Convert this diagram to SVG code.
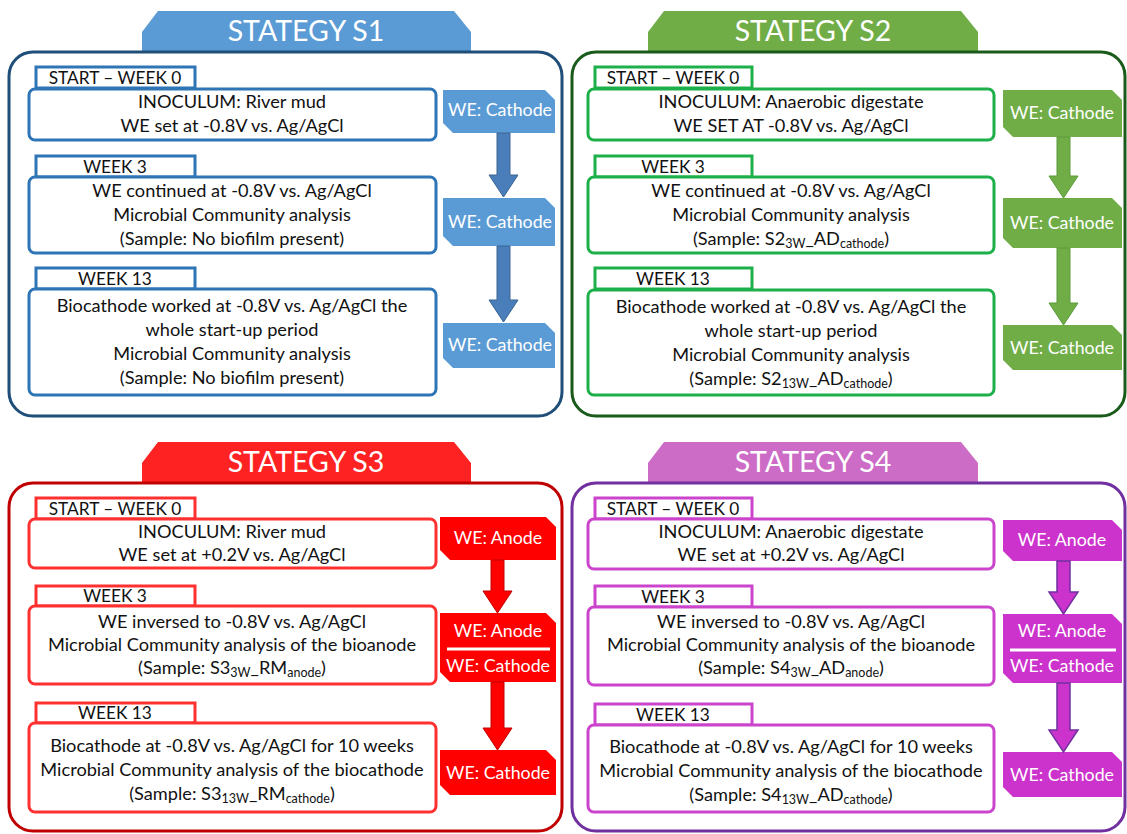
<svg xmlns="http://www.w3.org/2000/svg" width="1127" height="834" viewBox="0 0 1127 834">
<style>
text{font-family:Lato,"Open Sans","Liberation Sans",sans-serif;}
.t{font-size:18.2px;fill:#111;text-anchor:middle;}
.wk{font-size:17.3px;fill:#111;text-anchor:middle;}
.tag{font-size:17.8px;fill:#fff;text-anchor:middle;}
.ttl{font-size:28.5px;fill:#fff;text-anchor:middle;}
.sub{font-size:12.5px;}
.panel{fill:#fff;stroke-width:3;}
.box{fill:#fff;stroke-width:3;}
.p1{stroke:#1F4E79;}.b1{stroke:#2E75B6;}.f1{fill:#5B9BD5;}.a1{fill:#4A7EBB;stroke:#3A6592;stroke-width:1;}
.p2{stroke:#1A5A1A;}.b2{stroke:#1DB04A;}.f2{fill:#70AD47;}.a2{fill:#70AD47;stroke:#5A9A3A;stroke-width:1;}
.p3{stroke:#C00000;}.b3{stroke:#FF3030;}.f3{fill:#FF0000;}.ft3{fill:#FF2222;}.a3{fill:#FF0000;stroke:#C00000;stroke-width:1;}
.p4{stroke:#7030A0;}.b4{stroke:#CC44CC;}.f4{fill:#CC33CC;}.ft4{fill:#CC6CC6;}.a4{fill:#CC33CC;stroke:#7030A0;stroke-width:1.5;}
</style>

<!-- ===== STRATEGY S1 ===== -->
<g id="s1-title">
<polygon class="f1" points="142,52 142,32 158,11 454,11 471,32 471,52"/>
<text class="ttl" x="306" y="41">STATEGY S1</text>
</g>
<g id="s1-panel"><rect class="panel p1" x="9" y="52" width="553" height="364" rx="24"/></g>
<g id="s1-w0">
<rect class="box b1" x="36" y="67" width="159" height="21"/>
<text class="wk" x="115" y="84">START – WEEK 0</text>
</g>
<g id="s1-box1">
<rect class="box b1" x="29" y="89" width="407" height="51" rx="6"/>
<text class="t" x="232" y="108">INOCULUM: River mud</text>
<text class="t" x="232" y="132">WE set at -0.8V vs. Ag/AgCl</text>
</g>
<g id="s1-w3">
<rect class="box b1" x="36" y="156" width="159" height="21"/>
<text class="wk" x="115" y="173">WEEK 3</text>
</g>
<g id="s1-box2">
<rect class="box b1" x="29" y="177" width="407" height="76" rx="6"/>
<text class="t" x="232" y="197">WE continued at -0.8V vs. Ag/AgCl</text>
<text class="t" x="232" y="221">Microbial Community analysis</text>
<text class="t" x="232" y="245">(Sample: No biofilm present)</text>
</g>
<g id="s1-w13">
<rect class="box b1" x="36" y="268" width="159" height="21"/>
<text class="wk" x="115" y="285">WEEK 13</text>
</g>
<g id="s1-box3">
<rect class="box b1" x="29" y="289" width="407" height="106" rx="6"/>
<text class="t" x="232" y="312">Biocathode worked at -0.8V vs. Ag/AgCl the</text>
<text class="t" x="232" y="336">whole start-up period</text>
<text class="t" x="232" y="360">Microbial Community analysis</text>
<text class="t" x="232" y="384">(Sample: No biofilm present)</text>
</g>
<g id="s1-tag1">
<polygon class="f1" points="443,90 545,90 555,100 555,133 453,133 443,123"/>
<text class="tag" x="500" y="116">WE: Cathode</text>
</g>
<g id="s1-tag2">
<polygon class="f1" points="443,198 545,198 555,208 555,246 453,246 443,236"/>
<text class="tag" x="500" y="228">WE: Cathode</text>
</g>
<g id="s1-tag3">
<polygon class="f1" points="443,323 545,323 555,333 555,368 453,368 443,358"/>
<text class="tag" x="500" y="351">WE: Cathode</text>
</g>

<!-- ===== STRATEGY S2 ===== -->
<g id="s2-title">
<polygon class="f2" points="648,52 648,32 664,11 961,11 978,32 978,52"/>
<text class="ttl" x="813" y="41">STATEGY S2</text>
</g>
<g id="s2-panel"><rect class="panel p2" x="572" y="52" width="553" height="364" rx="24"/></g>
<g id="s2-w0">
<rect class="box b2" x="595" y="67" width="157" height="21"/>
<text class="wk" x="673" y="84">START – WEEK 0</text>
</g>
<g id="s2-box1">
<rect class="box b2" x="588" y="89" width="406" height="51" rx="6"/>
<text class="t" x="791" y="108">INOCULUM: Anaerobic digestate</text>
<text class="t" x="791" y="132">WE SET AT -0.8V vs. Ag/AgCl</text>
</g>
<g id="s2-w3">
<rect class="box b2" x="595" y="156" width="157" height="21"/>
<text class="wk" x="673" y="173">WEEK 3</text>
</g>
<g id="s2-box2">
<rect class="box b2" x="588" y="177" width="406" height="76" rx="6"/>
<text class="t" x="791" y="197">WE continued at -0.8V vs. Ag/AgCl</text>
<text class="t" x="791" y="221">Microbial Community analysis</text>
<text class="t" x="791" y="245">(Sample: S2<tspan class="sub" dy="3">3W</tspan><tspan dy="-3">_AD</tspan><tspan class="sub" dy="3">cathode</tspan><tspan dy="-3">)</tspan></text>
</g>
<g id="s2-w13">
<rect class="box b2" x="595" y="268" width="157" height="21"/>
<text class="wk" x="673" y="285">WEEK 13</text>
</g>
<g id="s2-box3">
<rect class="box b2" x="588" y="290" width="406" height="105" rx="6"/>
<text class="t" x="791" y="313">Biocathode worked at -0.8V vs. Ag/AgCl the</text>
<text class="t" x="791" y="337">whole start-up period</text>
<text class="t" x="791" y="361">Microbial Community analysis</text>
<text class="t" x="791" y="385">(Sample: S2<tspan class="sub" dy="3">13W</tspan><tspan dy="-3">_AD</tspan><tspan class="sub" dy="3">cathode</tspan><tspan dy="-3">)</tspan></text>
</g>
<g id="s2-tag1">
<polygon class="f2" points="1003,90 1112,90 1122,100 1122,137 1013,137 1003,127"/>
<text class="tag" x="1062" y="119">WE: Cathode</text>
</g>
<g id="s2-tag2">
<polygon class="f2" points="1003,198 1112,198 1122,208 1122,248 1013,248 1003,238"/>
<text class="tag" x="1062" y="229">WE: Cathode</text>
</g>
<g id="s2-tag3">
<polygon class="f2" points="1003,325 1112,325 1122,335 1122,370 1013,370 1003,360"/>
<text class="tag" x="1062" y="354">WE: Cathode</text>
</g>

<!-- ===== STRATEGY S3 ===== -->
<g id="s3-title">
<polygon class="ft3" points="142,483 142,463 158,442 454,442 471,463 471,483"/>
<text class="ttl" x="306" y="472">STATEGY S3</text>
</g>
<g id="s3-panel"><rect class="panel p3" x="9" y="483" width="553" height="348" rx="24"/></g>
<g id="s3-w0">
<rect class="box b3" x="36" y="498" width="159" height="21"/>
<text class="wk" x="115" y="515">START – WEEK 0</text>
</g>
<g id="s3-box1">
<rect class="box b3" x="29" y="519" width="407" height="49" rx="6"/>
<text class="t" x="232" y="538">INOCULUM: River mud</text>
<text class="t" x="232" y="561">WE set at +0.2V vs. Ag/AgCl</text>
</g>
<g id="s3-w3">
<rect class="box b3" x="36" y="586" width="159" height="20"/>
<text class="wk" x="115" y="602">WEEK 3</text>
</g>
<g id="s3-box2">
<rect class="box b3" x="29" y="606" width="407" height="78" rx="6"/>
<text class="t" x="232" y="628">WE inversed to -0.8V vs. Ag/AgCl</text>
<text class="t" x="232" y="651">Microbial Community analysis of the bioanode</text>
<text class="t" x="232" y="674">(Sample: S3<tspan class="sub" dy="3">3W</tspan><tspan dy="-3">_RM</tspan><tspan class="sub" dy="3">anode</tspan><tspan dy="-3">)</tspan></text>
</g>
<g id="s3-w13">
<rect class="box b3" x="36" y="703" width="159" height="20"/>
<text class="wk" x="115" y="719">WEEK 13</text>
</g>
<g id="s3-box3">
<rect class="box b3" x="29" y="723" width="407" height="89" rx="6"/>
<text class="t" x="232" y="752">Biocathode at -0.8V vs. Ag/AgCl for 10 weeks</text>
<text class="t" x="232" y="776">Microbial Community analysis of the biocathode</text>
<text class="t" x="232" y="800">(Sample: S3<tspan class="sub" dy="3">13W</tspan><tspan dy="-3">_RM</tspan><tspan class="sub" dy="3">cathode</tspan><tspan dy="-3">)</tspan></text>
</g>
<g id="s3-tag1">
<polygon class="f3" points="440,517 546,517 556,527 556,560 450,560 440,550"/>
<text class="tag" x="498" y="544">WE: Anode</text>
</g>
<g id="s3-tag2">
<polygon class="f3" points="440,613 546,613 556,623 556,682 450,682 440,672"/>
<text class="tag" x="498" y="637">WE: Anode</text>
<line x1="447" y1="649" x2="550" y2="649" stroke="#fff" stroke-width="3"/>
<text class="tag" x="498" y="672">WE: Cathode</text>
</g>
<g id="s3-tag3">
<polygon class="f3" points="440,750 546,750 556,760 556,795 450,795 440,785"/>
<text class="tag" x="498" y="779">WE: Cathode</text>
</g>

<!-- ===== STRATEGY S4 ===== -->
<g id="s4-title">
<polygon class="ft4" points="648,483 648,463 664,442 961,442 978,463 978,483"/>
<text class="ttl" x="813" y="472">STATEGY S4</text>
</g>
<g id="s4-panel"><rect class="panel p4" x="572" y="483" width="553" height="348" rx="24"/></g>
<g id="s4-w0">
<rect class="box b4" x="595" y="498" width="157" height="21"/>
<text class="wk" x="673" y="515">START – WEEK 0</text>
</g>
<g id="s4-box1">
<rect class="box b4" x="588" y="519" width="406" height="50" rx="6"/>
<text class="t" x="791" y="538">INOCULUM: Anaerobic digestate</text>
<text class="t" x="791" y="561">WE set at +0.2V vs. Ag/AgCl</text>
</g>
<g id="s4-w3">
<rect class="box b4" x="595" y="586" width="157" height="21"/>
<text class="wk" x="673" y="603">WEEK 3</text>
</g>
<g id="s4-box2">
<rect class="box b4" x="588" y="607" width="406" height="78" rx="6"/>
<text class="t" x="791" y="628">WE inversed to -0.8V vs. Ag/AgCl</text>
<text class="t" x="791" y="651">Microbial Community analysis of the bioanode</text>
<text class="t" x="791" y="674">(Sample: S4<tspan class="sub" dy="3">3W</tspan><tspan dy="-3">_AD</tspan><tspan class="sub" dy="3">anode</tspan><tspan dy="-3">)</tspan></text>
</g>
<g id="s4-w13">
<rect class="box b4" x="595" y="704" width="157" height="21"/>
<text class="wk" x="673" y="721">WEEK 13</text>
</g>
<g id="s4-box3">
<rect class="box b4" x="588" y="725" width="406" height="87" rx="6"/>
<text class="t" x="791" y="753">Biocathode at -0.8V vs. Ag/AgCl for 10 weeks</text>
<text class="t" x="791" y="777">Microbial Community analysis of the biocathode</text>
<text class="t" x="791" y="801">(Sample: S4<tspan class="sub" dy="3">13W</tspan><tspan dy="-3">_AD</tspan><tspan class="sub" dy="3">cathode</tspan><tspan dy="-3">)</tspan></text>
</g>
<g id="s4-tag1">
<polygon class="f4" points="1003,520 1112,520 1122,530 1122,561 1013,561 1003,551"/>
<text class="tag" x="1062" y="546">WE: Anode</text>
</g>
<g id="s4-tag2">
<polygon class="f4" points="1003,614 1112,614 1122,624 1122,683 1013,683 1003,673"/>
<text class="tag" x="1062" y="637">WE: Anode</text>
<line x1="1010" y1="650" x2="1116" y2="650" stroke="#fff" stroke-width="3"/>
<text class="tag" x="1062" y="672">WE: Cathode</text>
</g>
<g id="s4-tag3">
<polygon class="f4" points="1003,752 1112,752 1122,762 1122,797 1013,797 1003,787"/>
<text class="tag" x="1062" y="781">WE: Cathode</text>
</g>

<!-- ===== CONNECTORS ===== -->
<g id="connectors">
<polygon class="a1" points="497,133 510,133 510,175 518,175 503.5,197 489,175 497,175"/>
<polygon class="a1" points="497,246 510,246 510,300 518,300 503.5,322 489,300 497,300"/>
<polygon class="a2" points="1057,137 1070,137 1070,176 1078,176 1063.5,198 1049,176 1057,176"/>
<polygon class="a2" points="1057,248 1070,248 1070,303 1078,303 1063.5,325 1049,303 1057,303"/>
<polygon class="a3" points="491,560 504,560 504,591 512,591 497.5,613 483,591 491,591"/>
<polygon class="a3" points="491,682 504,682 504,728 512,728 497.5,750 483,728 491,728"/>
<polygon class="a4" points="1057,561 1070,561 1070,592 1078,592 1063.5,614 1049,592 1057,592"/>
<polygon class="a4" points="1057,683 1070,683 1070,730 1078,730 1063.5,752 1049,730 1057,730"/>
</g>
</svg>
